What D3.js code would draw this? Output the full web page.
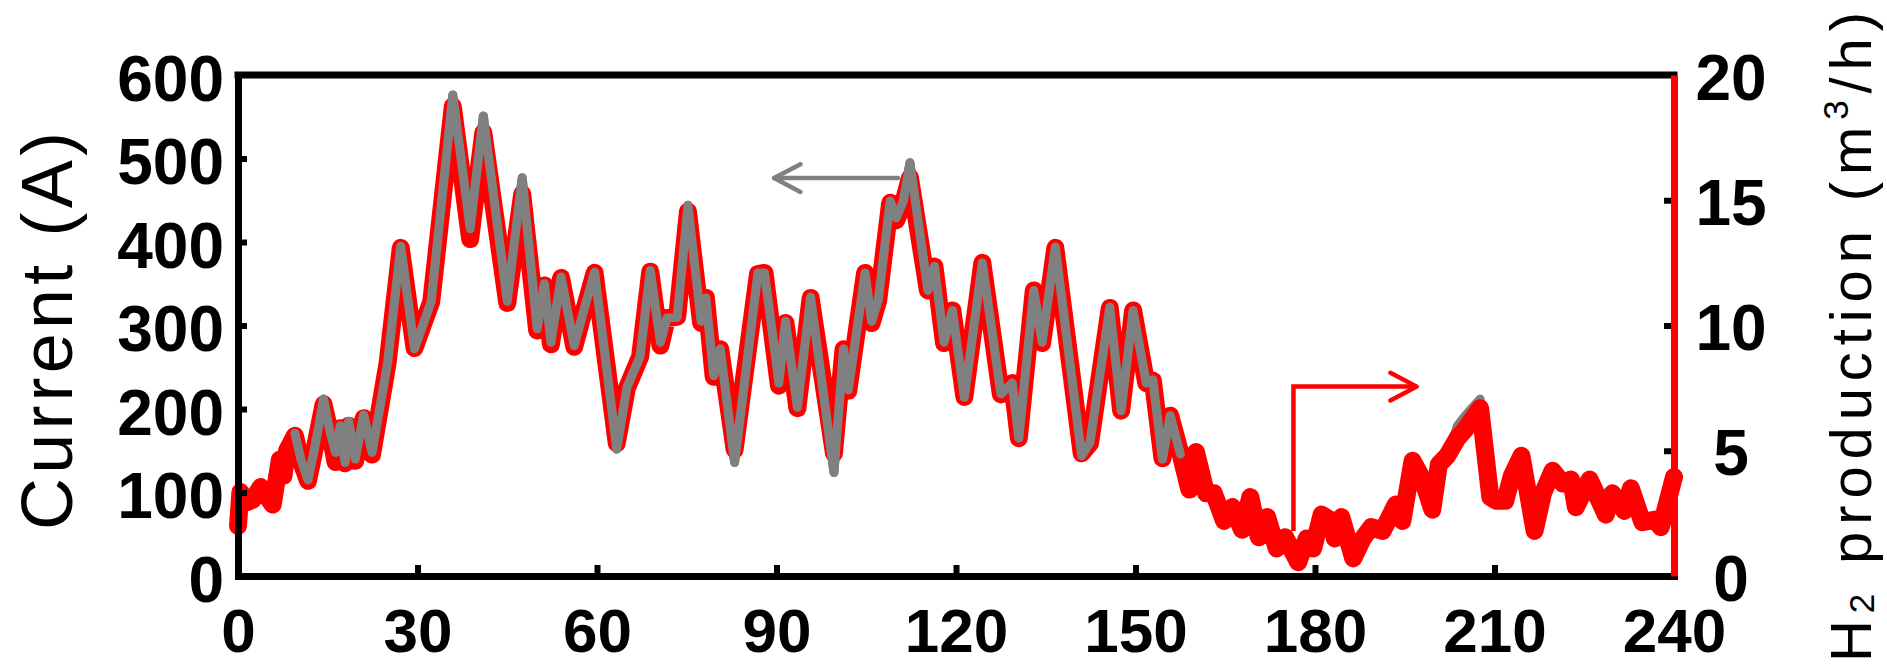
<!DOCTYPE html>
<html><head><meta charset="utf-8">
<script src="https://cdn.jsdelivr.net/npm/d3@7"></script>
<style>html,body{margin:0;padding:0;background:#fff;overflow:hidden;}svg{display:block;}</style>
</head><body>
<svg id="chart" width="1887" height="665"></svg>
<script>
// ---- data (time in minutes) ----
const times = [0,0.4,1.5,2.5,3.8,5.8,7,7.6,8.2,9.5,10.5,11.7,13,14.3,15.3,16.3,17.1,17.9,18.5,19.6,21,22.4,25,27.2,29.5,32.3,35.9,38.8,41,45,47.5,50,51.2,52.3,54,56.2,57.6,59.6,63.3,65,67.2,68.9,70.6,71.7,73.4,75.2,77.4,78.2,79.5,80.6,83,86.9,88,90.4,91.5,93.5,95.7,99.6,101.2,102,104.8,105.9,107,109,110,111.2,112.3,115.3,116.4,118,119.4,121.4,124.4,127.5,129.4,130.5,133,134.4,136.6,141,142.4,145.7,147.6,149.6,151.8,152.9,154.5,155.8,157.5,159,160.1,161.8,163.1,164.8,166.2,167.8,169.2,170.6,172,173.6,175,177.2,178.6,179.7,181.1,182.8,183.3,184.4,186.4,188,189.4,191.3,193.5,194.6,196.3,198,199.6,200.7,202.1,203.8,205.1,207.6,209.3,210.4,211.8,212.9,214.5,216.7,218.1,219.7,221.4,222.8,223.6,225.9,228.6,229.7,231.7,232.8,234.7,236.9,237.8,240];
const currentA = [60,100,88,92,107,86,140,120,150,171,140,115,160,212,175,148,180,136,185,140,193,148,255,395,272,329,576,416,551,329,477,296,350,280,358,276,313,364,152,226,263,366,280,309,310,444,305,333,240,272,136,363,363,231,305,202,334,124,272,223,363,305,330,449,429,449,495,342,371,280,318,214,375,218,231,165,342,280,394,144,160,322,198,318,231,235,140,192,146,103,148,99,99,66,82,56,95,47,70,33,47,16,45,33,74,66,45,70,21,45,58,54,85,66,138,115,80,134,144,180,192,212,100,91,91,120,144,54,99,126,111,115,82,115,74,99,78,105,64,68,58,118];
const h2Prod = [2.0,3.35,2.95,3.05,3.55,2.85,4.65,4.0,5.0,5.6,4.6,3.8,5.3,6.85,5.8,4.55,5.9,4.5,6.0,4.6,6.3,4.85,8.5,13.1,9.1,10.95,18.75,13.45,17.7,10.9,15.25,9.8,11.6,9.25,11.9,9.15,10.4,12.1,5.3,7.5,8.75,12.15,9.2,10.3,10.35,14.55,10.1,11.1,7.95,9.05,5.05,12.05,12.1,7.6,10.1,6.7,11.1,4.9,9.05,7.4,12.1,10.1,11.0,14.9,14.2,14.9,15.9,11.4,12.35,9.3,10.6,7.15,12.5,7.25,7.7,5.5,11.4,9.3,13.1,4.9,5.3,10.7,6.6,10.6,7.7,7.8,4.7,6.4,4.9,3.45,4.95,3.3,3.3,2.2,2.75,1.85,3.15,1.55,2.35,1.1,1.55,0.55,1.5,1.1,2.45,2.2,1.5,2.35,0.7,1.5,1.95,1.8,2.85,2.2,4.6,3.85,2.65,4.45,4.8,5.5,5.85,6.7,3.15,3.0,3.0,4.0,4.8,1.8,3.3,4.2,3.7,3.85,2.75,3.85,2.45,3.3,2.6,3.5,2.15,2.25,1.95,3.95];
const xTicks = [0,30,60,90,120,150,180,210,240];
const leftTicks = [0,100,200,300,400,500,600];
const rightTicks = [0,5,10,15,20];
const leftTitle = "Current (A)";

// ---- layout ----
const svg = d3.select("#chart");
const x = d3.scaleLinear().domain([0,240]).range([238,1674]);
const yL = d3.scaleLinear().domain([0,600]).range([576,75]);
const yR = d3.scaleLinear().domain([0,20]).range([576,75]);
const data = times.map((t,i)=>({t, a: currentA[i], h: h2Prod[i]}));
const GRAY = "#808080", RED = "#ff0000";
const FONT = "'Liberation Sans', Arial, sans-serif";

const lineA = d3.line().x(d=>x(d.t)).y(d=>yL(d.a));
const lineH = d3.line().x(d=>x(d.t)).y(d=>yR(d.h));

svg.append("path").datum(data).attr("d", lineA)
  .attr("fill","none").attr("stroke",GRAY).attr("stroke-width",9)
  .attr("stroke-linejoin","round").attr("stroke-linecap","round");
svg.append("path").datum(data).attr("d", lineH)
  .attr("fill","none").attr("stroke",RED).attr("stroke-width",18)
  .attr("stroke-linejoin","round").attr("stroke-linecap","round");
svg.append("path").datum(data.filter(d=>d.t>=9 && d.t<=157.5)).attr("d", lineA)
  .attr("fill","none").attr("stroke",GRAY).attr("stroke-width",9)
  .attr("stroke-linejoin","round").attr("stroke-linecap","round");

// arrows (data coordinates)
svg.append("path").attr("d", d3.line()([[x(110.3),yL(476.6)],[x(89.6),yL(476.6)]]))
  .attr("stroke",GRAY).attr("stroke-width",4.5).attr("fill","none").attr("stroke-linecap","round");
svg.append("path").attr("d", d3.line()([[x(94.0),yL(493)],[x(89.6),yL(476.6)],[x(94.0),yL(460)]]))
  .attr("stroke",GRAY).attr("stroke-width",4.5).attr("fill","none").attr("stroke-linecap","round").attr("stroke-linejoin","round");
svg.append("path").attr("d", d3.line()([[x(176.4),yR(1.8)],[x(176.4),yR(7.56)],[x(197.0),yR(7.56)]]))
  .attr("stroke",RED).attr("stroke-width",4.5).attr("fill","none").attr("stroke-linejoin","miter");
svg.append("path").attr("d", d3.line()([[x(192.6),yR(8.11)],[x(197.0),yR(7.56)],[x(192.6),yR(7.01)]]))
  .attr("stroke",RED).attr("stroke-width",4.5).attr("fill","none").attr("stroke-linecap","round").attr("stroke-linejoin","round");

// axes
function styleAxis(g, domainColor, fs){
  g.select(".domain").attr("stroke",domainColor).attr("stroke-width",7).attr("stroke-linecap","square");
  g.selectAll(".tick line").attr("stroke","#000").attr("stroke-width",6);
  g.selectAll(".tick text").attr("fill","#000").style("font-family",FONT).style("font-weight","bold").style("font-size",fs+"px");
}
const gx = svg.append("g").attr("transform",`translate(0,${yL(0)})`)
  .call(d3.axisBottom(x).tickValues(xTicks).tickSizeInner(-11).tickSizeOuter(0).tickPadding(0));
styleAxis(gx,"#000",62);
gx.selectAll(".tick text").attr("y",76).attr("dy",0);
gx.selectAll(".tick").filter(d=>d===0||d===240).select("line").remove();

const gl = svg.append("g").attr("transform",`translate(${x(0)},0)`)
  .call(d3.axisLeft(yL).tickValues(leftTicks).tickSizeInner(-9).tickSizeOuter(0).tickPadding(14));
styleAxis(gl,"#000",64);
gl.selectAll(".tick text").attr("dy","25px");
gl.selectAll(".tick").filter(d=>d===0||d===600).select("line").remove();

// top border
svg.append("path").attr("d", d3.line()([[x(0),yL(600)],[x(240),yL(600)]]))
  .attr("stroke","#000").attr("stroke-width",7).attr("stroke-linecap","square");

const gr = svg.append("g").attr("transform",`translate(${x(240)},0)`)
  .call(d3.axisRight(yR).tickValues(rightTicks).tickSizeInner(-10).tickSizeOuter(0).tickPadding(57));
styleAxis(gr,RED,64);
gr.select(".domain").attr("stroke-linecap","butt");
gr.selectAll(".tick text").attr("text-anchor","middle").attr("dy","24px");
gr.selectAll(".tick").filter(d=>d===0||d===20).select("line").remove();
gr.select(".domain").raise();

// titles
svg.append("text").attr("transform","translate(72,331) rotate(-90)")
  .attr("text-anchor","middle").style("font-family",FONT).style("font-size","72px")
  .attr("textLength",398).attr("lengthAdjust","spacing").text(leftTitle);

const rt = svg.append("text").attr("transform","translate(1871,662) rotate(-90)")
  .attr("text-anchor","start").style("font-family",FONT).style("font-size","58px")
  .attr("textLength",650).attr("lengthAdjust","spacing");
rt.append("tspan").text("H");
rt.append("tspan").attr("dy",3).style("font-size","35px").text("2");
rt.append("tspan").attr("dy",-3).text(" production (m");
rt.append("tspan").attr("dy",-23).style("font-size","35px").text("3");
rt.append("tspan").attr("dy",23).text("/h)");
</script>
</body></html>
